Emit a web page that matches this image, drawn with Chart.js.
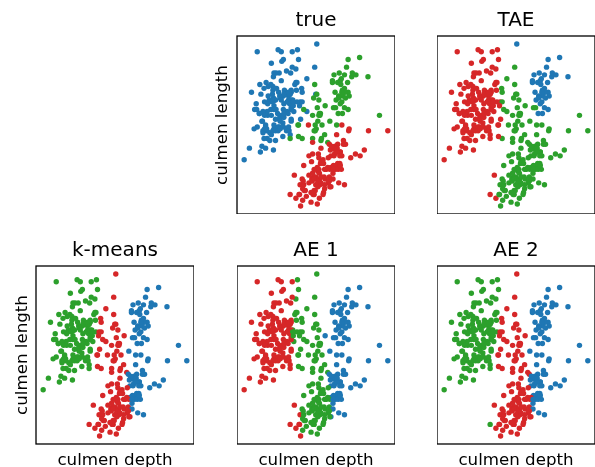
<!DOCTYPE html>
<html><head><meta charset="utf-8">
<script src="https://cdn.jsdelivr.net/npm/chart.js@4.4.0/dist/chart.umd.min.js"></script>
<style>
html,body{margin:0;padding:0;background:#fff;}
body{width:595px;height:467px;overflow:hidden;position:relative;}
canvas{position:absolute;}
</style></head><body>
<canvas id="p0"></canvas><canvas id="p1"></canvas><canvas id="p2"></canvas><canvas id="p3"></canvas><canvas id="p4"></canvas>
<script>
// ---- data: [culmen length, culmen depth] (mm) ----
const adelie = [[39.1,18.7],[39.5,17.4],[40.3,18.0],[36.7,19.3],[39.3,20.6],[38.9,17.8],[39.2,19.6],[34.1,18.1],[42.0,20.2],[37.8,17.1],[37.8,17.3],[41.1,17.6],[38.6,21.2],[34.6,21.1],[36.6,17.8],[38.7,19.0],[42.5,20.7],[34.4,18.4],[46.0,21.5],[37.8,18.3],[37.7,18.7],[35.9,19.2],[38.2,18.1],[38.8,17.2],[35.3,18.9],[40.6,18.6],[40.5,17.9],[37.9,18.6],[40.5,18.9],[39.5,16.7],[37.2,18.1],[39.5,17.8],[40.9,18.9],[36.4,17.0],[39.2,21.1],[38.8,20.0],[42.2,18.5],[37.6,19.3],[39.8,19.1],[36.5,18.0],[40.8,18.4],[36.0,18.5],[44.1,19.7],[37.0,16.9],[39.6,18.8],[41.1,19.0],[37.5,18.9],[36.0,17.9],[42.3,21.2],[39.6,17.7],[40.1,18.9],[35.0,17.9],[42.0,19.5],[34.5,18.1],[41.4,18.6],[39.0,17.5],[40.6,18.8],[36.5,16.6],[37.6,19.1],[35.7,16.9],[41.3,21.1],[37.6,17.0],[41.1,18.2],[36.4,17.1],[41.6,18.0],[35.5,16.2],[41.1,19.1],[35.9,16.6],[41.8,19.4],[33.5,19.0],[39.7,18.4],[39.6,17.2],[45.8,18.9],[35.5,17.5],[42.8,18.5],[40.9,16.8],[37.2,19.4],[36.2,16.1],[42.1,19.1],[34.6,17.2],[42.9,17.6],[36.7,18.8],[35.1,19.4],[37.3,17.8],[41.3,20.3],[36.3,19.5],[36.9,18.6],[38.3,19.2],[38.9,18.8],[35.7,18.0],[41.1,18.1],[34.0,17.1],[39.6,18.1],[36.2,17.3],[40.8,18.9],[38.1,18.6],[40.3,18.5],[33.1,16.1],[43.2,18.5],[35.0,17.9],[41.0,20.0],[37.7,16.0],[37.8,20.0],[37.9,18.6],[39.7,18.9],[38.6,17.2],[38.2,20.0],[38.1,17.0],[43.2,19.0],[38.1,16.5],[45.6,20.3],[39.7,17.7],[42.2,19.5],[39.6,20.7],[42.7,18.3],[38.6,17.0],[37.3,20.5],[35.7,17.0],[41.1,18.6],[36.2,17.2],[37.7,19.8],[40.2,17.0],[41.4,18.5],[35.2,15.9],[40.6,19.0],[38.8,17.6],[41.5,18.3],[39.0,17.1],[44.1,18.0],[38.5,17.9],[43.1,19.2],[36.8,18.5],[37.5,18.5],[38.1,17.6],[41.1,17.5],[35.6,17.5],[40.2,20.1],[37.0,16.5],[39.7,17.9],[40.2,17.1],[40.6,17.2],[32.1,15.5],[40.7,17.0],[37.3,16.8],[39.0,18.7],[39.2,18.6],[36.6,18.4],[36.0,17.8],[37.8,18.1],[36.0,17.1],[41.5,18.5]];
const chinstrap = [[46.5,17.9],[50.0,19.5],[51.3,19.2],[45.4,18.7],[52.7,19.8],[45.2,17.8],[46.1,18.2],[51.3,18.2],[46.0,18.9],[51.3,19.9],[46.6,17.8],[51.7,20.3],[47.0,17.3],[52.0,18.1],[45.9,17.1],[50.5,19.6],[50.3,20.0],[58.0,17.8],[46.4,18.6],[49.2,18.2],[42.4,17.3],[48.5,17.5],[43.2,16.6],[50.6,19.4],[46.7,17.9],[52.0,19.0],[50.5,18.4],[49.5,19.0],[46.4,17.8],[52.8,20.0],[40.9,16.6],[54.2,20.8],[42.5,16.7],[51.0,18.8],[49.7,18.6],[47.5,16.8],[47.6,18.3],[52.0,20.7],[46.9,16.6],[53.5,19.9],[49.0,19.5],[46.2,17.5],[50.9,19.1],[45.5,17.0],[50.9,17.9],[50.8,18.5],[50.1,17.9],[49.0,19.6],[51.5,18.7],[49.8,17.3],[48.1,16.4],[51.4,19.0],[45.7,17.3],[50.7,19.7],[42.5,17.3],[52.2,18.8],[45.2,16.6],[49.3,19.9],[50.2,18.8],[45.6,19.4],[51.9,19.5],[46.8,16.5],[45.7,17.0],[55.8,19.8],[43.5,18.1],[49.6,18.2],[50.8,19.0],[50.2,18.7]];
const gentoo = [[46.1,13.2],[50.0,16.3],[48.7,14.1],[50.0,15.2],[47.6,14.5],[46.5,13.5],[45.4,14.6],[46.7,15.3],[43.3,13.4],[46.8,15.4],[40.9,13.7],[49.0,16.1],[45.5,13.7],[48.4,14.6],[45.8,14.6],[49.3,15.7],[42.0,13.5],[49.2,15.2],[46.2,14.5],[48.7,15.1],[50.2,14.3],[45.1,14.5],[46.5,14.5],[46.3,15.8],[42.9,13.1],[46.1,15.1],[44.5,14.3],[47.8,15.0],[48.2,14.3],[50.0,15.3],[47.3,15.3],[42.8,14.2],[45.1,14.5],[59.6,17.0],[49.1,14.8],[48.4,16.3],[42.6,13.7],[44.4,17.3],[44.0,13.6],[48.7,15.7],[42.7,13.7],[49.6,16.0],[45.3,13.7],[49.6,15.0],[50.5,15.9],[43.6,13.9],[45.5,13.9],[50.5,15.9],[44.9,13.3],[45.2,15.8],[46.6,14.2],[48.5,14.1],[45.1,14.4],[50.1,15.0],[46.5,14.4],[45.0,15.4],[43.8,13.9],[45.5,15.0],[43.2,14.5],[50.4,15.3],[45.3,13.8],[46.2,14.9],[45.7,13.9],[54.3,15.7],[45.8,14.2],[49.8,16.8],[46.2,14.4],[49.5,16.2],[43.5,14.2],[50.7,15.0],[47.7,15.0],[46.4,15.6],[48.2,15.6],[46.5,14.8],[46.4,15.0],[48.6,16.0],[47.5,14.2],[51.1,16.3],[45.2,13.8],[45.2,16.4],[49.1,14.5],[52.5,15.6],[47.4,14.6],[50.0,15.9],[44.9,13.8],[50.8,17.3],[43.4,14.4],[51.3,14.2],[47.5,14.0],[52.1,17.0],[47.5,15.0],[52.2,17.1],[45.5,14.5],[49.5,16.1],[44.5,14.7],[50.8,15.7],[49.4,15.8],[46.9,14.6],[48.4,14.4],[51.1,16.5],[48.5,15.0],[55.9,17.0],[47.2,15.5],[49.1,15.0],[47.3,13.8],[46.8,16.1],[41.7,14.7],[53.4,15.8],[43.3,14.0],[48.1,15.1],[50.5,15.2],[49.8,15.9],[43.5,15.2],[51.5,16.3],[46.2,14.1],[55.1,16.0],[44.5,15.7],[48.8,16.2],[47.2,13.7],[46.8,14.3],[50.4,15.7],[45.2,14.8],[49.9,16.1]];

const panelTitles = ['true', 'TAE', 'k-means', 'AE 1', 'AE 2'];
const xAxisLabel = 'culmen depth';
const yAxisLabel = 'culmen length';
const clusterColors = ['#1f77b4', '#2ca02c', '#d62728'];
const speciesCluster = [0, 1, 2];  // Adelie, Chinstrap, Gentoo
// cluster prototypes: [length, depth, cluster]
const taeCenters = [[38.5,16.5,2],[41.0,20.0,2],[46.8,15.0,1],[45.0,20.0,1],[52.5,16.0,1],[48.0,17.0,1],[51.5,19.5,0],[46.0,21.5,0]];
const kmeansCenters = [[38.4,18.2,1],[45.5,15.6,2],[51.0,17.1,0]];
const ae1Centers = [[38.1,18.0,2],[40.0,13.5,2],[44.5,18.0,1],[46.0,14.5,1],[50.5,19.0,0],[51.0,15.5,0]];
const ae2Centers = [[38.6,18.3,1],[45.6,15.8,2],[51.2,17.3,0]];

const allPoints = adelie.concat(chinstrap, gentoo);
const trueLabels = [].concat(adelie.map(() => speciesCluster[0]), chinstrap.map(() => speciesCluster[1]), gentoo.map(() => speciesCluster[2]));
function assign(centers) {
  return allPoints.map(([x, y]) => {
    let best = 0, bd = Infinity;
    for (const [cx, cy, k] of centers) { const d = (x - cx) ** 2 + (y - cy) ** 2; if (d < bd) { bd = d; best = k; } }
    return best;
  });
}
const panelLabels = [trueLabels, assign(taeCenters), assign(kmeansCenters), assign(ae1Centers), assign(ae2Centers)];

Chart.defaults.font.family = 'DejaVu Sans';
Chart.defaults.color = '#000';

const framePlugin = {
  id: 'frame',
  afterDatasetsDraw(chart) {
    const a = chart.chartArea, ctx = chart.ctx;
    ctx.save(); ctx.strokeStyle = '#000'; ctx.lineWidth = 1.3;
    ctx.strokeRect(a.left, a.top, a.right - a.left, a.bottom - a.top);
    ctx.restore();
  }
};

// layout: [canvas left, canvas top, width, height, y label, x label, ylabel padding top, ylabel padding bottom]
const layout = [
  [200, 0, 195, 214, true, false, 12.7, 4.3],
  [437, 0, 158, 214, false, false, 0, 0],
  [0, 230, 194, 250, true, true, 13.0, 3.0],
  [237, 230, 158, 250, false, true, 0, 0],
  [437, 230, 158, 250, false, true, 0, 0]
];

layout.forEach((L, i) => {
  const cv = document.getElementById('p' + i);
  cv.width = L[2]; cv.height = L[3];
  cv.style.left = L[0] + 'px'; cv.style.top = L[1] + 'px';
  cv.style.width = L[2] + 'px'; cv.style.height = L[3] + 'px';
  new Chart(cv, {
    type: 'scatter',
    data: { datasets: [{
      data: allPoints.map(([x, y]) => ({ x, y })),
      pointBackgroundColor: panelLabels[i].map(k => clusterColors[k]),
      pointBorderWidth: 0, pointRadius: 2.7, pointHoverRadius: 2.7
    }]},
    options: {
      responsive: false, animation: false, devicePixelRatio: 1,
      layout: { padding: 0, autoPadding: false },
      plugins: {
        legend: { display: false }, tooltip: { enabled: false },
        title: { display: true, text: panelTitles[i], fullSize: false, color: '#000',
                 font: { size: 20, weight: 'normal', lineHeight: 1.2 }, padding: { top: 8.8, bottom: 3.2 } }
      },
      scales: {
        x: { type: 'linear', min: 30.725, max: 60.975, display: L[5],
             grid: { display: false, drawTicks: false }, border: { display: false }, ticks: { display: false },
             title: { display: L[5], text: xAxisLabel, color: '#000', font: { size: 16.67, lineHeight: 1.2 }, padding: { top: 6.5, bottom: 9.5 } } },
        y: { type: 'linear', min: 12.685, max: 21.915, display: L[4],
             grid: { display: false, drawTicks: false }, border: { display: false }, ticks: { display: false },
             title: { display: L[4], text: yAxisLabel, color: '#000', font: { size: 16.67, lineHeight: 1.2 }, padding: { top: L[6], bottom: L[7] } } }
      }
    },
    plugins: [framePlugin]
  });
});
</script>
</body></html>
